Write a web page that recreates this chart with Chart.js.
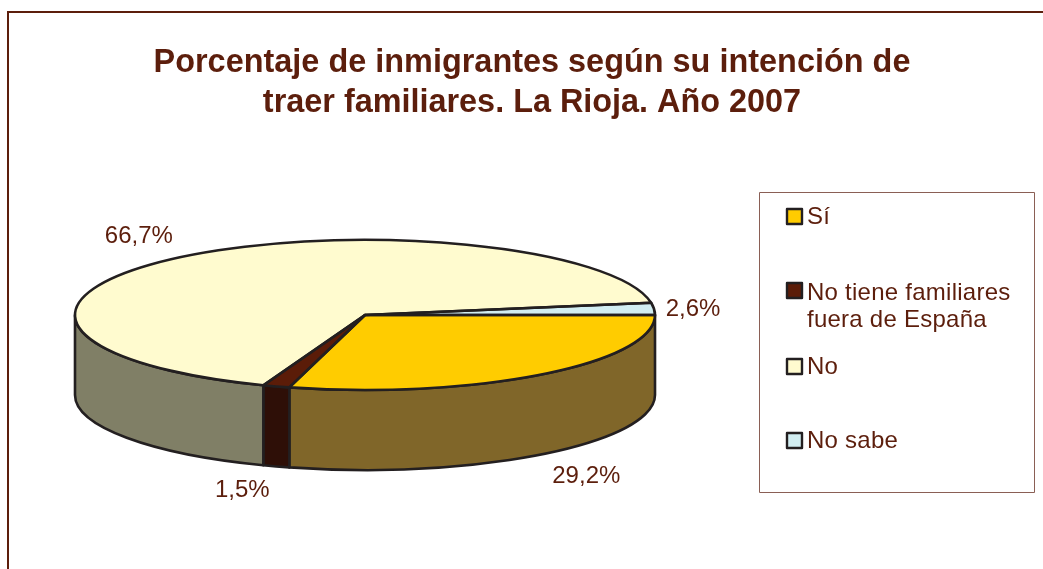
<!DOCTYPE html>
<html lang="es">
<head>
<meta charset="utf-8">
<title>Porcentaje de inmigrantes</title>
<script src="https://cdn.jsdelivr.net/npm/chart.js@4/dist/chart.umd.min.js"></script>
<style>
html,body{margin:0;padding:0;background:#fff;overflow:hidden}
#wrap{position:relative;width:1043px;height:569px}
canvas{display:block}
</style>
</head>
<body>
<div id="wrap"><canvas id="c" width="1043" height="569"></canvas></div>
<script>
const categories = ['Sí', 'No tiene familiares fuera de España', 'No', 'No sabe'];
const legendLines = [['Sí'], ['No tiene familiares', 'fuera de España'], ['No'], ['No sabe']];
const values = [29.2, 1.5, 66.7, 2.6];
const valueLabels = ['29,2%', '1,5%', '66,7%', '2,6%'];
const titleLines = ['Porcentaje de inmigrantes según su intención de', 'traer familiares. La Rioja. Año 2007'];
const topColors = ['#FFCC00', '#5B1C08', '#FFFBCF', '#D2EEF2'];
const sideColors = ['#806629', '#2E0F07', '#807F66', '#69777A'];

const INK = '#5C1E0C', STROKE = '#231F20';
const RX = 290, RY = 75, DEPTH = 80, CY = 315;
const TITLE_CENTER = 532;
const titleBaselines = [72, 112];
const titleSpacing = ['0.02px', '0px'];
const FONT = '"Liberation Sans", Arial, sans-serif';
const labelOffsets = [[45, 102], [-34, 104], [-42, -21], [39, 0]];
const legendSwatchTops = [208, 282, 358, 432];
const legendBaselines = [224, 300, 374, 448];

const pie3d = {
  id: 'pie3d',
  beforeDraw(chart) {
    const c = chart.ctx;
    c.save();
    c.fillStyle = '#fff';
    c.fillRect(0, 0, chart.width, chart.height);
    c.strokeStyle = INK;
    c.lineWidth = 2;
    c.beginPath();
    c.moveTo(8, chart.height);
    c.lineTo(8, 12);
    c.lineTo(chart.width, 12);
    c.stroke();
    c.font = 'bold 32.4px ' + FONT;
    c.fillStyle = INK;
    c.textAlign = 'center';
    c.textBaseline = 'alphabetic';
    titleLines.forEach((t, i) => {
      c.letterSpacing = titleSpacing[i];
      c.fillText(t, TITLE_CENTER, titleBaselines[i]);
    });
    c.restore();
  },
  beforeDatasetsDraw(chart) {
    const c = chart.ctx, arcs = chart.getDatasetMeta(0).data;
    const cx = arcs[0].x;
    c.save();
    c.lineWidth = 2.6;
    c.lineJoin = 'round';
    c.strokeStyle = STROKE;
    arcs.forEach((a, i) => {
      const s = Math.max(a.startAngle, 0), e = Math.min(a.endAngle, Math.PI);
      if (e <= s) return;
      c.beginPath();
      c.ellipse(cx, CY, RX, RY, 0, s, e);
      c.ellipse(cx, CY + DEPTH, RX, RY, 0, e, s, true);
      c.closePath();
      c.fillStyle = sideColors[i];
      c.fill();
      c.stroke();
    });
    c.restore();
    c.save();
    const k = RY / arcs[0].outerRadius;
    c.translate(0, CY);
    c.scale(1, k);
    c.translate(0, -arcs[0].y);
  },
  afterDatasetsDraw(chart) {
    const c = chart.ctx, arcs = chart.getDatasetMeta(0).data;
    c.restore();
    const cx = arcs[0].x;
    c.save();
    c.lineWidth = 2.6;
    c.lineJoin = 'round';
    c.strokeStyle = STROKE;
    arcs.forEach(a => {
      c.beginPath();
      c.moveTo(cx, CY);
      c.ellipse(cx, CY, RX, RY, 0, a.startAngle, a.endAngle);
      c.closePath();
      c.stroke();
    });
    c.font = '24px ' + FONT;
    c.fillStyle = INK;
    c.textAlign = 'center';
    c.textBaseline = 'middle';
    arcs.forEach((a, i) => {
      const m = (a.startAngle + a.endAngle) / 2;
      c.fillText(valueLabels[i],
        cx + RX * Math.cos(m) + labelOffsets[i][0],
        CY + RY * Math.sin(m) + labelOffsets[i][1]);
    });
    // legend
    c.strokeStyle = '#8A5F55';
    c.lineWidth = 1;
    c.strokeRect(759.5, 192.5, 275, 300);
    c.textAlign = 'left';
    c.textBaseline = 'alphabetic';
    c.letterSpacing = '0.25px';
    legendLines.forEach((lines, i) => {
      c.fillStyle = topColors[i];
      c.fillRect(787, legendSwatchTops[i] + 1, 15, 15);
      c.strokeStyle = STROKE;
      c.lineWidth = 2.4;
      c.strokeRect(787, legendSwatchTops[i] + 1, 15, 15);
      c.fillStyle = INK;
      lines.forEach((t, j) => c.fillText(t, 807, legendBaselines[i] + j * 27));
    });
    c.restore();
  }
};

new Chart(document.getElementById('c'), {
  type: 'pie',
  data: {
    labels: categories,
    datasets: [{
      data: values,
      backgroundColor: topColors,
      borderWidth: 0,
      clip: false
    }]
  },
  options: {
    responsive: false,
    animation: false,
    rotation: 90,
    radius: RX,
    layout: { padding: { left: 0, right: 313, top: 0, bottom: 0 } },
    events: [],
    plugins: {
      legend: { display: false },
      tooltip: { enabled: false },
      title: { display: false }
    }
  },
  plugins: [pie3d]
});
</script>
</body>
</html>
